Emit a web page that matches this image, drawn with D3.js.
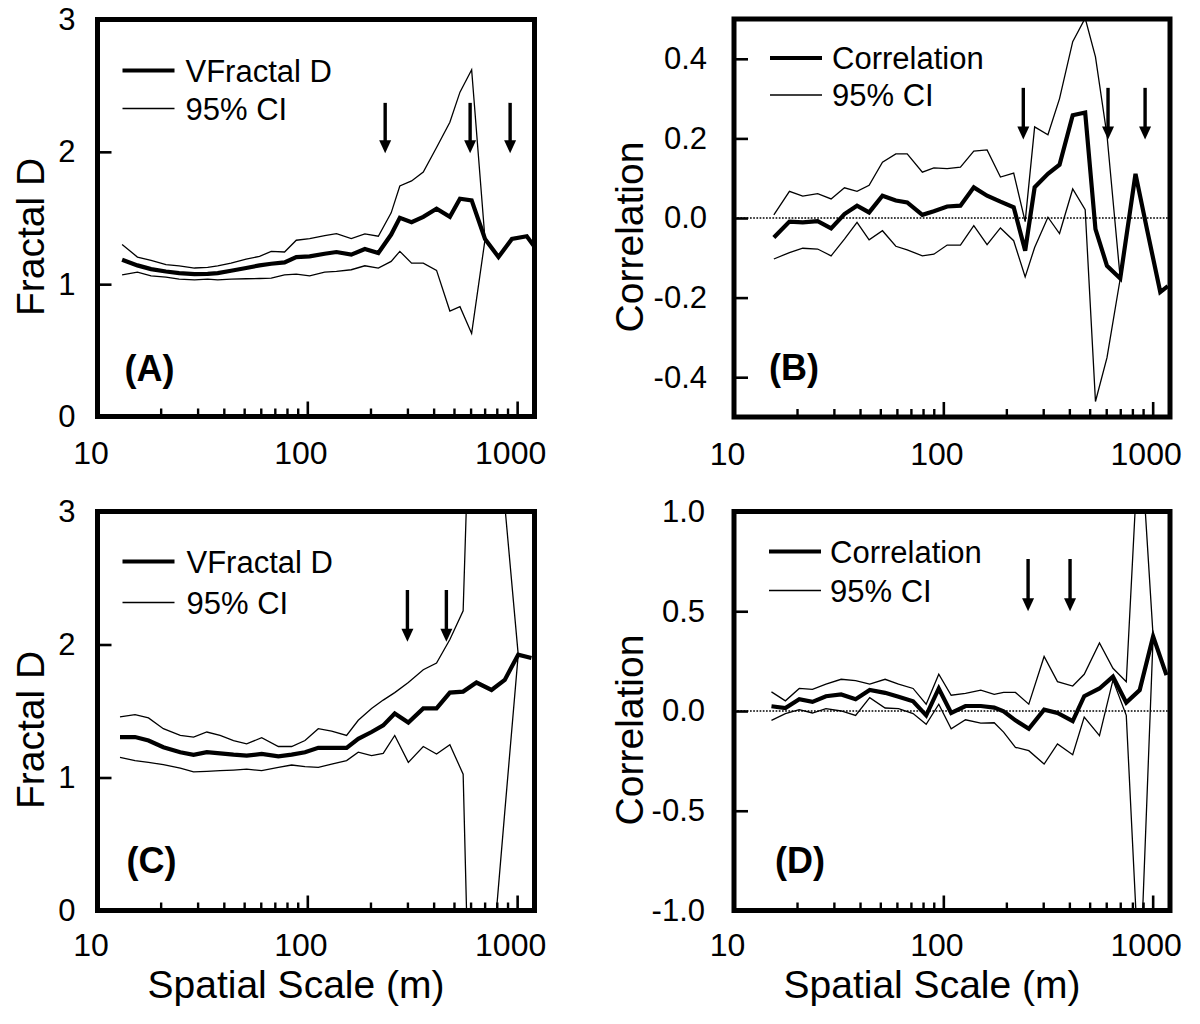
<!DOCTYPE html>
<html><head><meta charset="utf-8">
<script src="https://cdn.jsdelivr.net/npm/d3@7"></script>
<style>
body{margin:0;background:#fff;}
svg text{font-family:"Liberation Sans",Arial,Helvetica,sans-serif;fill:#000;}
</style></head><body>
<svg id="chart" width="1200" height="1024"></svg>
<script>
// ---------- DATA ----------
// Panel A
const scaleA = [13.1,15.5,18.0,21.2,24.5,29.0,33.5,37.4,43.3,51.1,59.2,67.3,77.9,88.6,102.6,121,137.7,162,188,218,251,276,314,357,413,478,534,607,703,815,944,1112,1205];
const fractalA = [1.185,1.142,1.114,1.096,1.084,1.076,1.078,1.084,1.101,1.122,1.142,1.154,1.165,1.205,1.210,1.230,1.243,1.223,1.266,1.235,1.375,1.501,1.468,1.509,1.570,1.509,1.646,1.633,1.342,1.205,1.342,1.362,1.286];
const ciHiA = [1.299,1.205,1.180,1.147,1.139,1.122,1.127,1.139,1.159,1.190,1.210,1.248,1.243,1.332,1.344,1.367,1.382,1.344,1.380,1.362,1.539,1.742,1.780,1.848,2.033,2.223,2.451,2.620,1.337];
const ciLoA = [1.071,1.091,1.063,1.053,1.038,1.033,1.038,1.033,1.038,1.041,1.043,1.046,1.071,1.076,1.063,1.091,1.096,1.109,1.139,1.122,1.172,1.248,1.159,1.159,1.104,0.797,0.830,0.628,1.337];
const arrowsA = [235, 597, 926];
const arrowSpanA = [2.37, 1.99];

// Panel B
const scaleB = [15.5,18.4,21.3,25.1,29.1,33.7,38.7,44.2,51.2,59.3,67.2,79.4,90.1,104.3,120.7,139.8,161.8,187.4,216.8,246,273,316,359,415,476,533,605,700,828,939,1087,1182];
const corrB = [-0.049,-0.009,-0.011,-0.008,-0.026,0.010,0.031,0.014,0.056,0.044,0.039,0.008,0.017,0.029,0.031,0.077,0.056,0.041,0.027,-0.082,0.077,0.111,0.134,0.258,0.265,-0.028,-0.120,-0.152,0.111,-0.028,-0.186,-0.171];
const ciHiB = [0.008,0.067,0.055,0.061,0.048,0.076,0.067,0.082,0.140,0.161,0.161,0.115,0.126,0.124,0.128,0.168,0.171,0.103,0.113,-0.009,0.229,0.209,0.300,0.443,0.502,0.405,0.208,-0.152];
const ciLoB = [-0.103,-0.087,-0.076,-0.078,-0.095,-0.053,-0.011,-0.055,-0.032,-0.071,-0.080,-0.095,-0.091,-0.068,-0.068,-0.019,-0.067,-0.025,-0.057,-0.148,-0.074,0.002,-0.039,0.073,0.021,-0.461,-0.351,-0.152];
const arrowsB = [241, 612, 920];
const arrowSpanB = [0.327, 0.197];

// Panel C
const scaleC = [12.8,15.1,17.5,20.6,24.8,28.7,33.2,38.4,44.5,51.4,60.6,72.8,84.2,97.5,112.8,130.6,153.9,174.9,202.4,230,261,303,357,413,478,553,640,755,873,1012,1170];
const fractalC = [1.304,1.304,1.278,1.228,1.190,1.170,1.190,1.182,1.172,1.165,1.177,1.159,1.172,1.190,1.223,1.223,1.223,1.291,1.342,1.392,1.481,1.413,1.519,1.519,1.638,1.646,1.714,1.658,1.734,1.924,1.899];
const ciHiC = [1.456,1.473,1.448,1.367,1.316,1.304,1.342,1.316,1.278,1.253,1.299,1.233,1.233,1.278,1.367,1.349,1.316,1.430,1.519,1.582,1.638,1.714,1.810,1.861,2.038,2.253,5.5,4.5,3.05,1.924];
const ciLoC = [1.152,1.127,1.114,1.096,1.071,1.043,1.046,1.051,1.056,1.063,1.051,1.076,1.094,1.081,1.076,1.101,1.127,1.190,1.165,1.182,1.316,1.114,1.233,1.177,1.246,1.025,-3.0,-0.44,0.74,1.924];
const arrowsC = [300, 460];
const arrowSpanC = [2.41, 2.02];

// Panel D
const scaleD = [15.1,17.6,20.5,23.7,27.5,32.5,38.1,44.5,52.7,61.1,71.7,82.8,95.1,109,127.6,151,175,194,221,256,303,351,415,471,557,646,748,867,1005,1164];
const corrD = [0.024,0.015,0.059,0.046,0.074,0.083,0.059,0.105,0.091,0.071,0.049,-0.022,0.113,-0.010,0.025,0.025,0.017,-0.002,-0.047,-0.089,0.007,-0.010,-0.051,0.074,0.113,0.172,0.042,0.105,0.374,0.180];
const ciHiD = [0.096,0.051,0.113,0.108,0.135,0.159,0.152,0.135,0.159,0.135,0.113,0.034,0.184,0.079,0.088,0.105,0.083,0.093,0.093,0.034,0.273,0.147,0.125,0.184,0.341,0.214,0.147,1.45,0.374];
const ciLoD = [-0.047,-0.013,0.007,-0.010,0.012,0.000,-0.022,0.067,0.015,0.012,-0.013,-0.067,0.034,-0.089,-0.044,-0.061,-0.059,-0.106,-0.182,-0.199,-0.266,-0.165,-0.219,-0.030,-0.123,0.155,-0.022,-1.39,0.374];
const arrowsD = [254, 403];
const arrowSpanD = [0.762, 0.50];

// Axis ticks / labels
const xDomain = [10, 1210];
const xMajorTicks = [10, 100, 1000];
const xMinorTicks = [20,30,40,50,60,70,80,90,200,300,400,500,600,700,800,900];
const yTicksFractal = [0, 1, 2, 3];
const yTicksCorrB = [-0.4, -0.2, 0.0, 0.2, 0.4];
const yTicksCorrD = [-1.0, -0.5, 0.0, 0.5, 1.0];
const xTitle = "Spatial Scale (m)";

// ---------- LAYOUT ----------
const svg = d3.select("#chart");
const panels = [
  {id:"A", x0:97.5, x1:534.5, y0:19.5, y1:416.5, yDomain:[0,3], yTicks:yTicksFractal, fmt:d3.format("d"),
   scales:scaleA, main:fractalA, hi:ciHiA, lo:ciLoA, legend:"VFractal D", ylabel:"Fractal D", zero:false,
   arrows:arrowsA, span:arrowSpanA, legX:25, legTextX:88, legY:[51,89], labX:27, labY:36, ylabX:44, ylabCY:237, tickPad:22, xlab:false},
  {id:"B", x0:734, x1:1170, y0:19, y1:417, yDomain:[-0.5,0.5], yTicks:yTicksCorrB, fmt:d3.format(".1f"),
   scales:scaleB, main:corrB, hi:ciHiB, lo:ciLoB, legend:"Correlation", ylabel:"Correlation", zero:true,
   arrows:arrowsB, span:arrowSpanB, legX:36, legTextX:98, legY:[39,76], labX:35, labY:37, ylabX:643, ylabCY:237, tickPad:27, xlab:false},
  {id:"C", x0:97.5, x1:534.5, y0:511.5, y1:910.5, yDomain:[0,3], yTicks:yTicksFractal, fmt:d3.format("d"),
   scales:scaleC, main:fractalC, hi:ciHiC, lo:ciLoC, legend:"VFractal D", ylabel:"Fractal D", zero:false,
   arrows:arrowsC, span:arrowSpanC, legX:25, legTextX:89, legY:[50,91], labX:29, labY:38, ylabX:44, ylabCY:730, tickPad:22, xlab:true},
  {id:"D", x0:734, x1:1170, y0:511.5, y1:910.5, yDomain:[-1,1], yTicks:yTicksCorrD, fmt:d3.format(".1f"),
   scales:scaleD, main:corrD, hi:ciHiD, lo:ciLoD, legend:"Correlation", ylabel:"Correlation", zero:true,
   arrows:arrowsD, span:arrowSpanD, legX:35, legTextX:96, legY:[40,79], labX:41, labY:38, ylabX:643, ylabCY:730, tickPad:29, xlab:true}
];

const fmtMinus = f => (v => f(v).replace("\u2212","-"));

panels.forEach(p => {
  const x = d3.scaleLog().domain(xDomain).range([p.x0, p.x1]);
  const y = d3.scaleLinear().domain(p.yDomain).range([p.y1, p.y0]);
  const g = svg.append("g");
  const clipId = "clip" + p.id;
  svg.append("clipPath").attr("id", clipId).append("rect")
    .attr("x", p.x0).attr("y", p.y0).attr("width", p.x1 - p.x0).attr("height", p.y1 - p.y0);
  const plot = g.append("g").attr("clip-path", `url(#${clipId})`);

  if (p.zero) {
    plot.append("line").attr("x1", p.x0).attr("x2", p.x1).attr("y1", y(0)).attr("y2", y(0))
      .attr("stroke", "#000").attr("stroke-width", 1.7).attr("stroke-dasharray", "1.7,1.5");
  }
  const line = d3.line().x(d => x(d[0])).y(d => y(d[1]));
  [p.hi, p.lo].forEach(arr => {
    plot.append("path").datum(d3.zip(p.scales.slice(0, arr.length), arr))
      .attr("d", line).attr("fill", "none").attr("stroke", "#000").attr("stroke-width", 1.3);
  });
  plot.append("path").datum(d3.zip(p.scales, p.main))
    .attr("d", line).attr("fill", "none").attr("stroke", "#000").attr("stroke-width", 4.2)
    .attr("stroke-linejoin", "miter");

  // arrows
  p.arrows.forEach(a => {
    const ax = x(a), yt = y(p.span[0]), yb = y(p.span[1]);
    g.append("line").attr("x1", ax).attr("x2", ax).attr("y1", yt).attr("y2", yb - 10)
      .attr("stroke", "#000").attr("stroke-width", 3.4);
    g.append("path").attr("d", `M${ax-6},${yb-13}L${ax+6},${yb-13}L${ax},${yb}Z`).attr("fill", "#000");
  });

  // axes
  const yAxis = d3.axisLeft(y).tickValues(p.yTicks).tickSize(-14).tickPadding(p.tickPad).tickFormat(fmtMinus(p.fmt));
  const ya = g.append("g").attr("transform", `translate(${p.x0},0)`).call(yAxis);
  ya.select(".domain").remove();
  ya.selectAll("line").attr("stroke-width", 2.6);
  ya.selectAll("text").style("font-size", "31px").attr("font-family", null);

  const xMinor = d3.axisBottom(x).tickValues(xMinorTicks).tickSize(-8).tickFormat("");
  const xm = g.append("g").attr("transform", `translate(0,${p.y1})`).call(xMinor);
  xm.select(".domain").remove();
  xm.selectAll("line").attr("stroke-width", 2.4);

  const xMajor = d3.axisBottom(x).tickValues(xMajorTicks).tickSize(-15).tickPadding(p.xlab ? 23 : 25).tickFormat(d3.format("d"));
  const xM = g.append("g").attr("transform", `translate(0,${p.y1})`).call(xMajor);
  xM.select(".domain").remove();
  xM.selectAll("line").attr("stroke-width", 2.6);
  xM.selectAll("text").style("font-size", "32px").attr("dx", -7).attr("font-family", null);

  // frame
  g.append("rect").attr("x", p.x0).attr("y", p.y0).attr("width", p.x1 - p.x0).attr("height", p.y1 - p.y0)
    .attr("fill", "none").attr("stroke", "#000").attr("stroke-width", 5);

  // legend
  const lg = g.append("g");
  lg.append("line").attr("x1", p.x0 + p.legX).attr("x2", p.x0 + p.legX + 52)
    .attr("y1", p.y0 + p.legY[0]).attr("y2", p.y0 + p.legY[0]).attr("stroke", "#000").attr("stroke-width", 4.2);
  lg.append("line").attr("x1", p.x0 + p.legX).attr("x2", p.x0 + p.legX + 52)
    .attr("y1", p.y0 + p.legY[1]).attr("y2", p.y0 + p.legY[1]).attr("stroke", "#000").attr("stroke-width", 1.3);
  lg.append("text").attr("x", p.x0 + p.legTextX).attr("y", p.y0 + p.legY[0]).attr("dy", "0.36em")
    .style("font-size", "31px").text(p.legend);
  lg.append("text").attr("x", p.x0 + p.legTextX).attr("y", p.y0 + p.legY[1]).attr("dy", "0.36em")
    .style("font-size", "31px").text("95% CI");

  // panel label
  g.append("text").attr("x", p.x0 + p.labX).attr("y", p.y1 - p.labY)
    .style("font-size", "36px").style("font-weight", "bold").text(`(${p.id})`);

  // y title
  g.append("text").attr("transform", `translate(${p.ylabX},${p.ylabCY}) rotate(-90)`)
    .attr("text-anchor", "middle").style("font-size", "39px").text(p.ylabel);

  // x title
  if (p.xlab) {
    g.append("text").attr("x", (p.x0 + p.x1) / 2 - 20).attr("y", 998)
      .attr("text-anchor", "middle").style("font-size", "39px").text(xTitle);
  }
});
</script>
</body></html>
